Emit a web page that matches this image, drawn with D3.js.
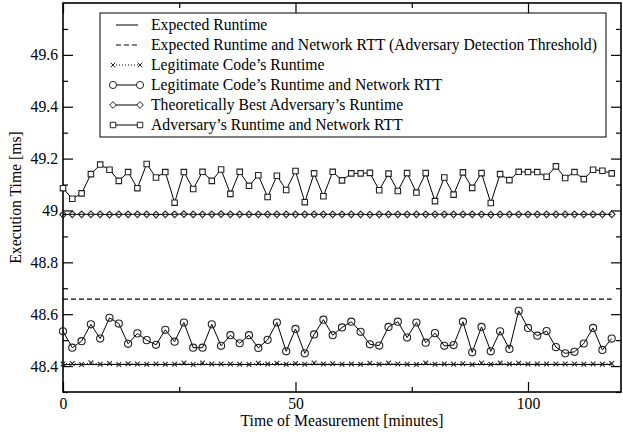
<!DOCTYPE html>
<style>
body { margin: 0; background: #fff; }
text { font-family: "Liberation Serif", "Times New Roman", serif; fill: #000; }
</style>
<svg width="623" height="434"></svg>
<script src="https://cdn.jsdelivr.net/npm/d3@7/dist/d3.min.js"></script>
<script>

// measurement times, every 2 minutes
var minutes = d3.range(0, 120, 2);

var expectedRuntime = 48.406;
var detectionThreshold = 48.658;

var legitRuntime = [48.408, 48.410, 48.406, 48.413, 48.407, 48.410, 48.406, 48.409, 48.408, 48.407,
  48.408, 48.407, 48.407, 48.412, 48.406, 48.412, 48.408, 48.408, 48.408, 48.407,
  48.406, 48.411, 48.408, 48.411, 48.407, 48.410, 48.407, 48.412, 48.408, 48.409,
  48.407, 48.408, 48.407, 48.411, 48.407, 48.412, 48.408, 48.407, 48.406, 48.412,
  48.407, 48.408, 48.407, 48.409, 48.406, 48.412, 48.407, 48.412, 48.408, 48.411,
  48.408, 48.408, 48.408, 48.408, 48.408, 48.408, 48.407, 48.408, 48.407, 48.410];

var legitRTT = [48.534, 48.471, 48.496, 48.561, 48.506, 48.586, 48.564, 48.486, 48.526, 48.500,
  48.482, 48.540, 48.494, 48.568, 48.471, 48.471, 48.561, 48.478, 48.519, 48.488,
  48.519, 48.470, 48.501, 48.568, 48.457, 48.543, 48.449, 48.522, 48.579, 48.519,
  48.549, 48.571, 48.532, 48.484, 48.479, 48.551, 48.571, 48.510, 48.568, 48.490,
  48.527, 48.478, 48.481, 48.571, 48.453, 48.551, 48.457, 48.534, 48.466, 48.613,
  48.547, 48.517, 48.535, 48.473, 48.449, 48.455, 48.487, 48.547, 48.462, 48.506];

var bestAdversary = [48.984, 48.985, 48.985, 48.985, 48.985, 48.984, 48.985, 48.985, 48.985, 48.985,
  48.984, 48.985, 48.985, 48.986, 48.985, 48.985, 48.985, 48.986, 48.985, 48.985,
  48.985, 48.985, 48.985, 48.985, 48.985, 48.985, 48.985, 48.985, 48.985, 48.985,
  48.985, 48.985, 48.985, 48.984, 48.985, 48.985, 48.985, 48.985, 48.985, 48.985,
  48.985, 48.985, 48.985, 48.985, 48.985, 48.985, 48.984, 48.985, 48.985, 48.985,
  48.985, 48.985, 48.985, 48.985, 48.985, 48.985, 48.985, 48.985, 48.985, 48.985];

var adversaryRTT = [49.086, 49.045, 49.066, 49.140, 49.177, 49.157, 49.114, 49.148, 49.086, 49.179,
  49.127, 49.148, 49.030, 49.148, 49.083, 49.149, 49.114, 49.158, 49.064, 49.149,
  49.095, 49.136, 49.052, 49.134, 49.079, 49.152, 49.032, 49.143, 49.055, 49.149,
  49.116, 49.143, 49.143, 49.145, 49.078, 49.142, 49.075, 49.144, 49.069, 49.144,
  49.036, 49.127, 49.061, 49.147, 49.087, 49.144, 49.029, 49.140, 49.117, 49.149,
  49.148, 49.148, 49.130, 49.170, 49.125, 49.148, 49.121, 49.157, 49.153, 49.143];

var xMajor = [0, 50, 100], xMinor = [25, 75];
var yMajor = [48.4, 48.6, 48.8, 49.0, 49.2, 49.4, 49.6];
var yMinor = [48.3, 48.5, 48.7, 48.9, 49.1, 49.3, 49.5, 49.7];

var legendLabels = ["Expected Runtime",
  "Expected Runtime and Network RTT (Adversary Detection Threshold)",
  "Legitimate Code\u2019s Runtime",
  "Legitimate Code\u2019s Runtime and Network RTT",
  "Theoretically Best Adversary\u2019s Runtime",
  "Adversary\u2019s Runtime and Network RTT"];

var fontSize = 15.7;

var svg = d3.select("svg"),
    margin = {top: 3, right: 2, bottom: 42, left: 63},
    width = +svg.attr("width") - margin.left - margin.right,
    height = +svg.attr("height") - margin.top - margin.bottom,
    g = svg.append("g").attr("transform", "translate(" + margin.left + "," + margin.top + ")");

var x = d3.scaleLinear().domain([0, 120]).range([0, width]);
var y = d3.scaleLinear().domain([48.3, 49.8]).range([height, 0]);

var fmt = function(d) { return d3.format("")(+d.toFixed(1)); };

// ticks on all four sides, pointing in
function ticks(axis, vals, size) {
  return axis.tickValues(vals).tickSizeInner(-size).tickSizeOuter(0).tickPadding(6);
}
g.append("g").attr("class", "ax").attr("transform", "translate(0," + height + ")")
  .call(ticks(d3.axisBottom(x), xMajor, 10).tickFormat(d3.format("d")));
g.append("g").attr("class", "ax").attr("transform", "translate(0," + height + ")")
  .call(ticks(d3.axisBottom(x), xMinor, 5).tickFormat(""));
g.append("g").attr("class", "ax")
  .call(ticks(d3.axisTop(x), xMajor, 10).tickFormat(""));
g.append("g").attr("class", "ax")
  .call(ticks(d3.axisTop(x), xMinor, 5).tickFormat(""));
g.append("g").attr("class", "ax")
  .call(ticks(d3.axisLeft(y), yMajor, 10).tickFormat(fmt).tickPadding(5));
g.append("g").attr("class", "ax")
  .call(ticks(d3.axisLeft(y), yMinor, 5).tickFormat(""));
g.append("g").attr("class", "ax").attr("transform", "translate(" + width + ",0)")
  .call(ticks(d3.axisRight(y), yMajor, 10).tickFormat(""));
g.append("g").attr("class", "ax").attr("transform", "translate(" + width + ",0)")
  .call(ticks(d3.axisRight(y), yMinor, 5).tickFormat(""));

g.selectAll(".ax .domain").remove();
g.selectAll(".ax line").attr("stroke", "#000").attr("stroke-width", 1.2);
g.selectAll(".ax text").attr("font-size", fontSize).attr("font-family", "Liberation Serif");

g.append("rect").attr("width", width).attr("height", height)
  .attr("fill", "none").attr("stroke", "#000").attr("stroke-width", 1.6);

// horizontal reference lines
g.append("line")
  .attr("x1", x(0)).attr("x2", x(118))
  .attr("y1", y(expectedRuntime)).attr("y2", y(expectedRuntime))
  .attr("stroke", "#000").attr("stroke-width", 1.1);
g.append("line")
  .attr("x1", x(0)).attr("x2", x(118))
  .attr("y1", y(detectionThreshold)).attr("y2", y(detectionThreshold))
  .attr("stroke", "#000").attr("stroke-width", 1.1).attr("stroke-dasharray", "5,3");

var line = d3.line()
  .x(function(d, i) { return x(minutes[i]); })
  .y(function(d) { return y(d); });

var symbols = {
  cross: d3.symbol().type(d3.symbolX).size(16),
  circle: d3.symbol().type(d3.symbolCircle).size(40),
  diamond: d3.symbol().type(d3.symbolDiamond2).size(28),
  square: d3.symbol().type(d3.symbolSquare).size(30)
};

var series = [
  {values: legitRuntime, dash: "1,2", sym: "cross"},
  {values: legitRTT, dash: null, sym: "circle"},
  {values: bestAdversary, dash: null, sym: "diamond"},
  {values: adversaryRTT, dash: null, sym: "square"}
];

series.forEach(function(s) {
  g.append("path").datum(s.values)
    .attr("d", line)
    .attr("fill", "none").attr("stroke", "#000").attr("stroke-width", 1)
    .attr("stroke-dasharray", s.dash);
  g.append("g").selectAll("path")
    .data(s.values)
    .enter().append("path")
      .attr("transform", function(d, i) { return "translate(" + x(minutes[i]) + "," + y(d) + ")"; })
      .attr("d", symbols[s.sym])
      .attr("fill", s.sym == "square" ? "#fff" : "none")
      .attr("stroke", "#222").attr("stroke-width", 1.1);
});

// axis titles
svg.append("text")
  .attr("x", margin.left + width / 2).attr("y", 426)
  .attr("text-anchor", "middle").attr("font-size", fontSize)
  .text("Time of Measurement [minutes]");
svg.append("text")
  .attr("transform", "translate(21," + (margin.top + height / 2) + ") rotate(-90)")
  .attr("text-anchor", "middle").attr("font-size", fontSize)
  .text("Execution Time [ms]");

// legend
var legend = svg.append("g");
legend.append("rect")
  .attr("x", 100).attr("y", 13).attr("width", 506).attr("height", 124)
  .attr("fill", "#fff").attr("stroke", "#000").attr("stroke-width", 1);

var rows = legend.selectAll("g.row")
  .data(legendLabels)
  .enter().append("g")
    .attr("class", "row")
    .attr("transform", function(d, i) { return "translate(0," + (25 + i * 20) + ")"; });

rows.append("text")
  .attr("x", 151).attr("dy", "0.32em").attr("font-size", fontSize)
  .text(function(d) { return d; });

var legendStyle = [
  {dash: null, sym: null},
  {dash: "5,3", sym: null},
  {dash: "1,2", sym: "cross"},
  {dash: null, sym: "circle"},
  {dash: null, sym: "diamond"},
  {dash: null, sym: "square"}
];

rows.each(function(d, i) {
  var st = legendStyle[i], r = d3.select(this);
  var x1 = st.sym ? 113 : 116, x2 = st.sym ? 140 : 138;
  r.append("line").attr("x1", x1).attr("x2", x2)
    .attr("stroke", "#000").attr("stroke-width", 1).attr("stroke-dasharray", st.dash);
  if (st.sym) {
    [x1, x2].forEach(function(px) {
      r.append("path").attr("transform", "translate(" + px + ",0)")
        .attr("d", symbols[st.sym])
        .attr("fill", "#fff").attr("stroke", "#222").attr("stroke-width", 1);
    });
  }
});

</script>
